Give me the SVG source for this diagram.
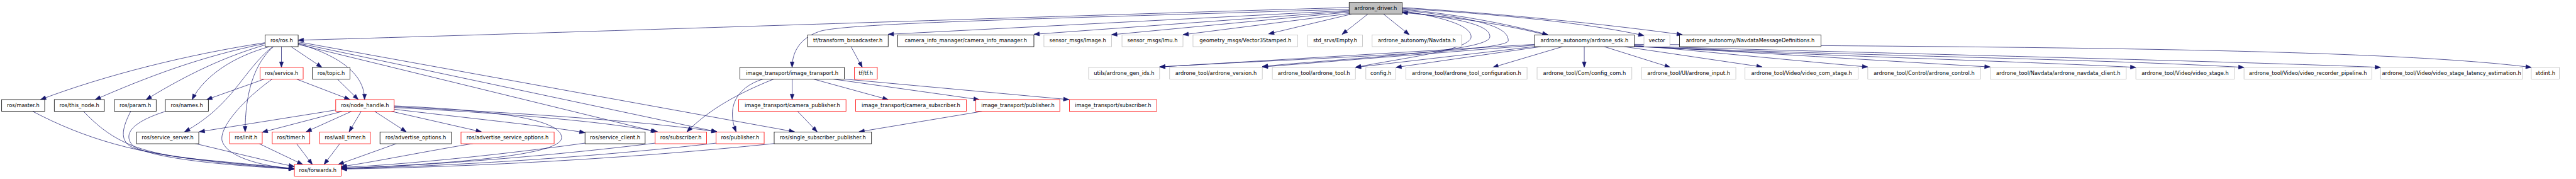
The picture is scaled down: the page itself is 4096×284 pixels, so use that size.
<svg xmlns="http://www.w3.org/2000/svg" width="4096" height="284" viewBox="0 0 4096 284">
<style>
.n rect{fill:#ffffff;stroke-width:1.2}
.k rect{stroke:#000000}
.r rect{stroke:#ff0000}
.g rect{stroke:#bfbfbf}
.root rect{fill:#bfbfbf;stroke:#000000}
.n text{font-family:"DejaVu Sans",sans-serif;font-size:12.5px;text-anchor:middle;fill:#000000}
.e path{fill:none;stroke:#191970;stroke-width:1.1;marker-end:url(#ah)}
</style>
<defs>
<marker id="ah" markerUnits="userSpaceOnUse" markerWidth="20" markerHeight="20" refX="0" refY="0" orient="auto" overflow="visible">
<path d="M0,0 L-13,-4.7 L-13,4.7 Z" fill="#191970" stroke="#191970" stroke-width="1"/>
</marker>
</defs>
<rect x="0" y="0" width="4096" height="284" fill="#ffffff"/>
<g transform="scale(0.66396)">
<g id="edges" class="e">
<path d="M3231,18 C2600,36 1300,80 714,96"/>
<path d="M3231,22 C2500,45 2010,55 1960,76 C1915,92 1897,125 1897,161"/>
<path d="M3231,25 L2127,82"/>
<path d="M3231,27 L2476,82"/>
<path d="M3231,29 L2662,83"/>
<path d="M3234,32 L2833,83"/>
<path d="M3237,33.5 L3038,81"/>
<path d="M3276,33.5 L3214,82"/>
<path d="M3313,33.5 L3375,83"/>
<path d="M3358,22 C3500,35 3620,60 3707,83"/>
<path d="M3358,20 C3600,35 3800,55 3937,85"/>
<path d="M3358,18 C3650,36 3900,65 4029,83"/>
<path d="M3700,83 C3620,62 3500,42 3358,30"/>
<path d="M3358,26 C3450,40 3523,60 3523,88 C3523,120 3350,140 3246,161"/>
<path d="M3358,28 C3500,45 3568,60 3568,88 C3568,125 3200,140 3023,159"/>
<path d="M3358,24 C3550,45 3612,65 3612,97 C3612,125 3100,140 2777,160"/>
<path d="M3675,106 L2777,160"/>
<path d="M3675,108 L3023,160"/>
<path d="M3678,111 L3246,161"/>
<path d="M3690,111.5 L3343,161"/>
<path d="M3742,111.5 L3575,161"/>
<path d="M3794,111.5 L3794,161"/>
<path d="M3842,111.5 L4000,161"/>
<path d="M3890,111.5 L4220,160"/>
<path d="M3914,108 C4100,125 4300,145 4473,160"/>
<path d="M3914,110 C4200,125 4500,145 4766,160"/>
<path d="M3914,111 C4400,135 4800,145 5115,161"/>
<path d="M3914,111 C4500,135 5000,140 5374,161"/>
<path d="M3914,110 C4600,130 5300,145 5701,161"/>
<path d="M3914,106 C4800,112 5700,115 6062,161"/>
<path d="M635,102 C450,130 250,180 97,238"/>
<path d="M635,104 C480,135 350,185 228,238"/>
<path d="M636,107 C520,140 420,195 350,238"/>
<path d="M645,111.5 C560,135 490,180 460,238"/>
<path d="M653,111.5 C580,170 560,250 442,315"/>
<path d="M655,111.5 C610,150 587,220 587,315"/>
<path d="M674,111.5 L674,161"/>
<path d="M697,111.5 L771,161"/>
<path d="M714,104 C800,130 873,170 873,238"/>
<path d="M714,100 L1903,315"/>
<path d="M714,103 L1717,315"/>
<path d="M714,106 L1572,315"/>
<path d="M633,189 L495,238"/>
<path d="M710,189 L838,238"/>
<path d="M652,189 C580,240 520,310 533,340 C550,380 640,398 705,404"/>
<path d="M808,189 L858,238"/>
<path d="M804,263 L477,315"/>
<path d="M820,266 L628,316"/>
<path d="M842,266 L733,315"/>
<path d="M865,266 L836,315"/>
<path d="M897,266 L973,315"/>
<path d="M937,266 L1153,315"/>
<path d="M944,261 C1100,280 1300,300 1401,317"/>
<path d="M944,257 C1200,270 1450,290 1575,315"/>
<path d="M944,255 C1250,270 1550,290 1717,315"/>
<path d="M944,253 C1150,262 1345,280 1345,329 C1345,370 1100,390 817,403"/>
<path d="M467,343 C540,360 640,385 705,398"/>
<path d="M620,343 L725,393"/>
<path d="M710,343 L748,393"/>
<path d="M814,343 L776,393"/>
<path d="M950,343 L810,393"/>
<path d="M1133,343 C1000,365 880,390 817,398"/>
<path d="M1401,342 C1200,370 950,395 817,400"/>
<path d="M1569,342 C1300,375 1000,397 817,402"/>
<path d="M1715,342 C1400,378 1050,398 817,403"/>
<path d="M1854,343 C1500,380 1100,400 817,404"/>
<path d="M78,266 C200,330 330,370 520,385 C600,393 660,398 705,403"/>
<path d="M200,266 C260,330 320,360 430,375 C560,392 650,398 705,403"/>
<path d="M313,266 C285,320 290,345 330,357 C450,385 620,398 705,404"/>
<path d="M397,266 C320,290 290,320 320,350 C380,385 600,398 705,404"/>
<path d="M1853,189 C1750,230 1690,270 1645,315"/>
<path d="M1827,189 C1760,210 1740,260 1763,315"/>
<path d="M1897,189 L1897,238"/>
<path d="M1948,189 L2127,238"/>
<path d="M1995,189 L2345,238"/>
<path d="M2022,189 L2560,238"/>
<path d="M1910,266 L1957,315"/>
<path d="M2352,266 L2057,315"/>
<path d="M2038,111.5 L2065,161"/>
</g>
<g id="ardrone_driver" class="n root"><rect x="3231" y="5.5" width="127" height="28"/><text x="3294.5" y="23.5">ardrone_driver.h</text></g>
<g id="ros_ros" class="n k"><rect x="635" y="83.5" width="79" height="28"/><text x="674.5" y="101.5">ros/ros.h</text></g>
<g id="tf_transform_broadcaster" class="n k"><rect x="1934" y="83.5" width="193" height="28"/><text x="2030.5" y="101.5">tf/transform_broadcaster.h</text></g>
<g id="camera_info_manager" class="n k"><rect x="2150" y="83.5" width="326" height="28"/><text x="2313" y="101.5">camera_info_manager/camera_info_manager.h</text></g>
<g id="sensor_msgs_image" class="n g"><rect x="2500" y="83.5" width="162" height="28"/><text x="2581" y="101.5">sensor_msgs/Image.h</text></g>
<g id="sensor_msgs_imu" class="n g"><rect x="2687" y="83.5" width="146" height="28"/><text x="2760" y="101.5">sensor_msgs/Imu.h</text></g>
<g id="geometry_msgs_vector3stamped" class="n g"><rect x="2857" y="83.5" width="251" height="28"/><text x="2982.5" y="101.5">geometry_msgs/Vector3Stamped.h</text></g>
<g id="std_srvs_empty" class="n g"><rect x="3132" y="83.5" width="131" height="28"/><text x="3197.5" y="101.5">std_srvs/Empty.h</text></g>
<g id="ardrone_autonomy_navdata" class="n g"><rect x="3286" y="83.5" width="214" height="28"/><text x="3393" y="101.5">ardrone_autonomy/Navdata.h</text></g>
<g id="ardrone_sdk" class="n k"><rect x="3675" y="83.5" width="239" height="28"/><text x="3794.5" y="101.5">ardrone_autonomy/ardrone_sdk.h</text></g>
<g id="vector" class="n g"><rect x="3937" y="83.5" width="62" height="28"/><text x="3968" y="101.5">vector</text></g>
<g id="navdata_message_definitions" class="n k"><rect x="4022" y="83.5" width="339" height="28"/><text x="4191.5" y="101.5">ardrone_autonomy/NavdataMessageDefinitions.h</text></g>
<g id="ros_service" class="n r"><rect x="623" y="161" width="103" height="28"/><text x="674.5" y="179">ros/service.h</text></g>
<g id="ros_topic" class="n k"><rect x="748" y="161" width="90" height="28"/><text x="793" y="179">ros/topic.h</text></g>
<g id="image_transport" class="n k"><rect x="1772" y="161" width="250" height="28"/><text x="1897" y="179">image_transport/image_transport.h</text></g>
<g id="tf_tf" class="n r"><rect x="2046" y="161" width="55" height="28"/><text x="2073.5" y="179">tf/tf.h</text></g>
<g id="ardrone_gen_ids" class="n g"><rect x="2607" y="161" width="170" height="28"/><text x="2692" y="179">utils/ardrone_gen_ids.h</text></g>
<g id="ardrone_version" class="n g"><rect x="2801" y="161" width="222" height="28"/><text x="2912" y="179">ardrone_tool/ardrone_version.h</text></g>
<g id="ardrone_tool" class="n g"><rect x="3047" y="161" width="199" height="28"/><text x="3146.5" y="179">ardrone_tool/ardrone_tool.h</text></g>
<g id="config" class="n g"><rect x="3271" y="161" width="72" height="28"/><text x="3307" y="179">config.h</text></g>
<g id="ardrone_tool_configuration" class="n g"><rect x="3367" y="161" width="290" height="28"/><text x="3512" y="179">ardrone_tool/ardrone_tool_configuration.h</text></g>
<g id="config_com" class="n g"><rect x="3681" y="161" width="227" height="28"/><text x="3794.5" y="179">ardrone_tool/Com/config_com.h</text></g>
<g id="ardrone_input" class="n g"><rect x="3931" y="161" width="226" height="28"/><text x="4044" y="179">ardrone_tool/UI/ardrone_input.h</text></g>
<g id="video_com_stage" class="n g"><rect x="4179" y="161" width="271" height="28"/><text x="4314.5" y="179">ardrone_tool/Video/video_com_stage.h</text></g>
<g id="ardrone_control" class="n g"><rect x="4473" y="161" width="270" height="28"/><text x="4608" y="179">ardrone_tool/Control/ardrone_control.h</text></g>
<g id="ardrone_navdata_client" class="n g"><rect x="4766" y="161" width="326" height="28"/><text x="4929" y="179">ardrone_tool/Navdata/ardrone_navdata_client.h</text></g>
<g id="video_stage" class="n g"><rect x="5115" y="161" width="236" height="28"/><text x="5233" y="179">ardrone_tool/Video/video_stage.h</text></g>
<g id="video_recorder_pipeline" class="n g"><rect x="5374" y="161" width="306" height="28"/><text x="5527" y="179">ardrone_tool/Video/video_recorder_pipeline.h</text></g>
<g id="video_stage_latency_estimation" class="n g"><rect x="5701" y="161" width="340" height="28"/><text x="5871" y="179">ardrone_tool/Video/video_stage_latency_estimation.h</text></g>
<g id="stdint" class="n g"><rect x="6062" y="161" width="67" height="28"/><text x="6095.5" y="179">stdint.h</text></g>
<g id="ros_master" class="n k"><rect x="4" y="238" width="103" height="28"/><text x="55.5" y="256">ros/master.h</text></g>
<g id="ros_this_node" class="n k"><rect x="130" y="238" width="120" height="28"/><text x="190" y="256">ros/this_node.h</text></g>
<g id="ros_param" class="n k"><rect x="274" y="238" width="100" height="28"/><text x="324" y="256">ros/param.h</text></g>
<g id="ros_names" class="n k"><rect x="396" y="238" width="103" height="28"/><text x="447.5" y="256">ros/names.h</text></g>
<g id="ros_node_handle" class="n r"><rect x="804" y="238" width="140" height="28"/><text x="874" y="256">ros/node_handle.h</text></g>
<g id="camera_publisher" class="n r"><rect x="1769" y="238" width="257" height="28"/><text x="1897.5" y="256">image_transport/camera_publisher.h</text></g>
<g id="camera_subscriber" class="n r"><rect x="2049" y="238" width="265" height="28"/><text x="2181.5" y="256">image_transport/camera_subscriber.h</text></g>
<g id="it_publisher" class="n r"><rect x="2337" y="238" width="201" height="28"/><text x="2437.5" y="256">image_transport/publisher.h</text></g>
<g id="it_subscriber" class="n r"><rect x="2561" y="238" width="209" height="28"/><text x="2665.5" y="256">image_transport/subscriber.h</text></g>
<g id="ros_service_server" class="n k"><rect x="327" y="315.5" width="149" height="28"/><text x="401.5" y="333.5">ros/service_server.h</text></g>
<g id="ros_init" class="n r"><rect x="550" y="315.5" width="78" height="28"/><text x="589" y="333.5">ros/init.h</text></g>
<g id="ros_timer" class="n r"><rect x="652" y="315.5" width="90" height="28"/><text x="697" y="333.5">ros/timer.h</text></g>
<g id="ros_wall_timer" class="n r"><rect x="766" y="315.5" width="121" height="28"/><text x="826.5" y="333.5">ros/wall_timer.h</text></g>
<g id="ros_advertise_options" class="n k"><rect x="910" y="315.5" width="171" height="28"/><text x="995.5" y="333.5">ros/advertise_options.h</text></g>
<g id="ros_advertise_service_options" class="n r"><rect x="1104" y="315.5" width="223" height="28"/><text x="1215.5" y="333.5">ros/advertise_service_options.h</text></g>
<g id="ros_service_client" class="n k"><rect x="1401" y="315.5" width="144" height="28"/><text x="1473" y="333.5">ros/service_client.h</text></g>
<g id="ros_subscriber" class="n r"><rect x="1569" y="315.5" width="123" height="28"/><text x="1630.5" y="333.5">ros/subscriber.h</text></g>
<g id="ros_publisher" class="n r"><rect x="1715" y="315.5" width="115" height="28"/><text x="1772.5" y="333.5">ros/publisher.h</text></g>
<g id="ros_single_subscriber_publisher" class="n k"><rect x="1854" y="315.5" width="233" height="28"/><text x="1970.5" y="333.5">ros/single_subscriber_publisher.h</text></g>
<g id="ros_forwards" class="n r"><rect x="705" y="393" width="112" height="28"/><text x="761" y="411">ros/forwards.h</text></g>
</g>
</svg>
